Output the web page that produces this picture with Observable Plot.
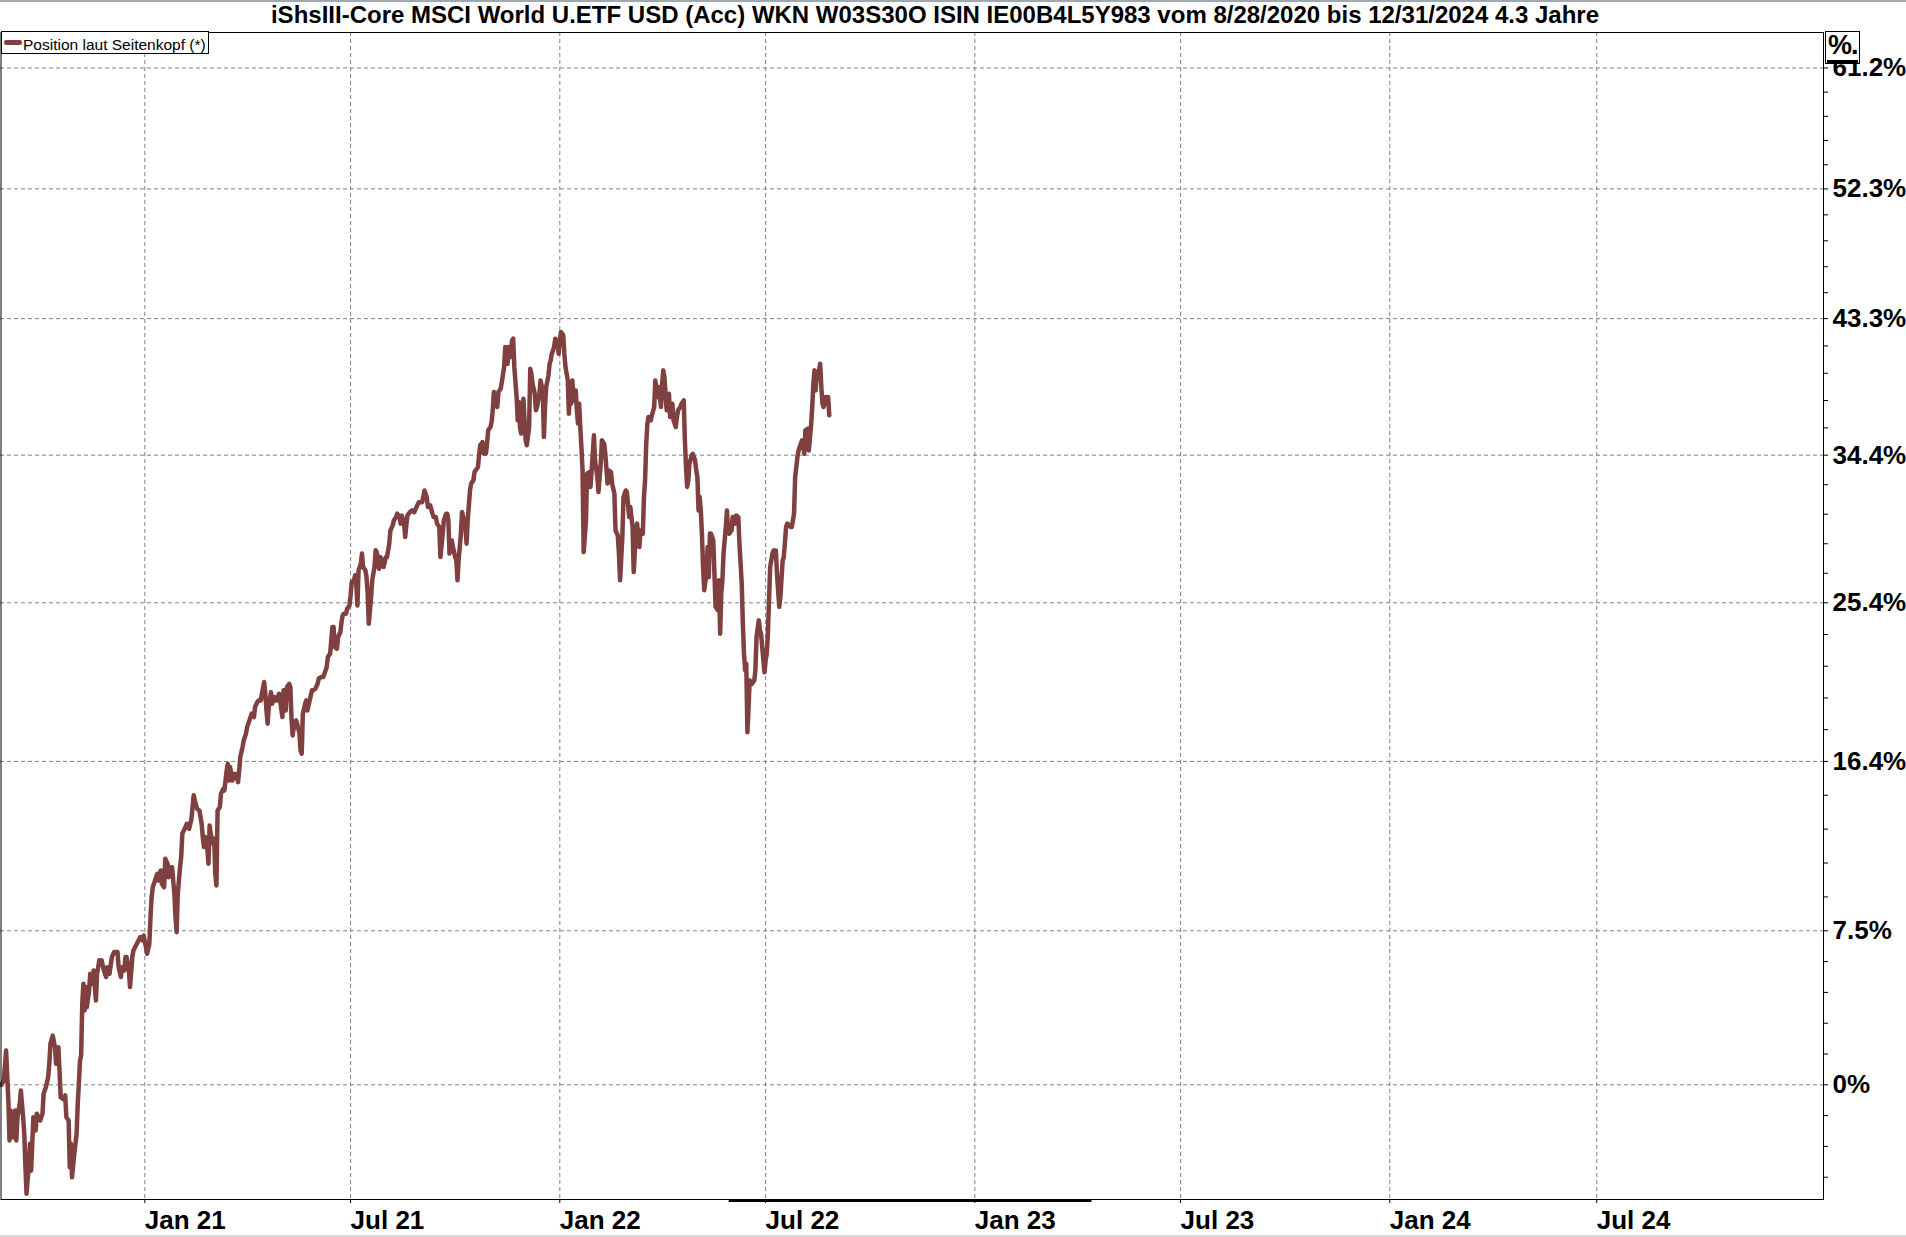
<!DOCTYPE html>
<html>
<head>
<meta charset="utf-8">
<script src="https://cdn.jsdelivr.net/npm/d3@7"></script>
<script src="https://cdn.jsdelivr.net/npm/@observablehq/plot@0.6"></script>
<style>
  html, body { margin: 0; padding: 0; background: #fff; overflow: hidden; }
  #wrap { position: relative; width: 1906px; height: 1237px; }
  #chart svg { display: block; }
  .ovl { position: absolute; }
  #title { left: 0; top: 0; width: 1870px; text-align: center; font: bold 24px "Liberation Sans", Arial, sans-serif; line-height: 30px; color: #000; white-space: nowrap; }
  #legend { left: 1px; top: 31px; width: 206px; height: 21px; border: 1px solid #000; background: #fff; }
  #legend .sw { position: absolute; left: 2px; top: 8px; width: 18px; height: 4.5px; border-radius: 2.25px; background: #804040; }
  #legend .tx { position: absolute; left: 21px; top: 2px; font: 15.5px "Liberation Sans", Arial, sans-serif; line-height: 21px; white-space: nowrap; color: #000; }
  #unit { left: 1825px; top: 31px; width: 33px; height: 31px; border: 1px solid #000; background: #fff; overflow: hidden; }
  #unit .tx { position: absolute; left: 2px; top: -2px; font: bold 27px "Liberation Sans", Arial, sans-serif; line-height: 30px; letter-spacing: -1px; color: #000; }
  #unit .ul { position: absolute; left: 1px; top: 28px; width: 31px; height: 3px; background: #000; }
  #topline { left: 0; top: 0; width: 1906px; height: 2px; background: #9ea8b1; }
  #botline { left: 0; top: 1235px; width: 1906px; height: 2px; background: #dcdcdc; }
</style>
</head>
<body>
<div id="wrap">
  <div id="chart"></div>
  <div id="topline" class="ovl"></div>
  <div id="botline" class="ovl"></div>
  <div id="title" class="ovl"></div>
  <div id="legend" class="ovl"><div class="sw"></div><div class="tx"></div></div>
  <div id="unit" class="ovl"><div class="tx">%.</div><div class="ul"></div></div>
</div>
<script>
// ---------------- data ----------------
const chartTitle = "iShsIII-Core MSCI World U.ETF USD (Acc) WKN W03S30O ISIN IE00B4L5Y983 vom 8/28/2020 bis 12/31/2024 4.3 Jahre";
const seriesName = "Position laut Seitenkopf (*)";
const startDate = "2020-08-28";

// trading days, as day offsets from startDate
const dayOffsets = [
  0,2,4,6,7,8,10,12,13,14,16,17,19,20,21,22,24,25,26,27,28,30,31,34,36,37,39,41,42,43,45,47,48,50,51,52,54,56,57,59,
  60,61,62,64,66,67,68,69,70,71,72,73,74,75,77,78,80,81,83,84,86,87,88,90,92,93,95,97,99,102,103,105,106,108,109,110,112,113,115,116,
  119,122,124,125,127,128,130,131,132,133,135,137,138,140,141,143,144,146,147,149,150,152,153,154,155,157,158,159,161,163,165,167,169,170,172,174,
  176,177,178,179,181,182,183,184,186,187,
  188,189,190,192,193,195,196,198,199,200,201,203,204,206,208,209,210,212,213,215,216,218,219,220,222,223,225,226,228,229,231,232,233,234,235,237,238,240,241,242,
  244,245,247,248,250,251,253,254,255,256,257,259,260,262,263,264,265,267,268,269,271,273,274,276,278,279,281,283,284,286,287,288,289,291,292,293,295,296,298,299,
  300,301,303,304,306,307,308,310,311,312,313,314,316,317,318,320,321,322,323,325,326,328,329,330,332,333,335,336,338,339,341,342,344,345,347,348,350,351,352,354,
  355,356,357,359,361,363,365,367,370,372,
  374,375,377,379,380,382,383,385,386,388,389,391,392,393,394,396,397,399,400,401,402,404,405,406,408,409,410,412,413,415,416,418,419,420,421,423,424,426,427,428,
  430,431,432,433,435,436,437,439,440,442,443,444,445,446,448,449,450,451,453,454,455,456,457,459,460,461,462,464,465,466,467,469,470,471,473,474,476,477,478,479,
  481,482,483,484,486,487,488,489,490,491,492,494,495,496,498,499,500,501,502,503,505,506,507,508,509,510,511,512,514,515,517,518,520,521,522,524,525,527,528,530,
  531,533,534,536,537,539,540,542,543,544,546,547,549,550,552,553,555,556,558,559,561,
  562,564,565,566,567,568,569,571,572,574,575,577,578,580,581,582,583,585,586,587,588,590,591,593,594,595,597,598,600,601,602,603,604,605,607,608,610,611,612,613,
  614,615,616,617,618,620,621,622,623,624,626,627,628,630,631,632,633,634,635,637,638,639,640,642,643,645,646,648,649,651,652,653,654,655,656,657,658,660,662,663,
  664,666,667,668,669,671,672,673,674,675,676,678,679,681,682,684,685,687,688,690,691,693,694,695,697,698,700,701,703,704,706,707,709,710,712,713,714,715,716,717,
  719,720,721,722,723,725,726,727,728
];

// performance since start, in percent
const performancePct = [
  0,0.20,1.62,-0.73,-2.58,-1.20,-2.43,-1.20,-2.58,-1.51,-0.89,-0.27,-1.51,-2.28,-3.79,-4.99,-3.64,-2.73,-3.95,-2.73,-1.51,-2.12,-1.35,-1.66,-1.35,-0.42,-0.11,0.36,0.99,1.94,2.34,1.78,0.99,1.78,0.67,-0.58,-0.66,-0.50,-1.51,-1.66,
  -3.79,-2.73,-4.25,-3.19,-2.28,-0.89,0.05,1.15,1.39,3.88,4.86,3.55,4.70,3.71,4.53,5.35,4.86,5.52,4.04,5.35,6.02,5.85,6.02,5.52,5.19,5.68,5.35,6.18,6.43,6.43,5.68,5.19,5.68,5.52,6.18,6.18,5.52,4.70,6.18,6.51,
  6.85,7.18,7.02,7.26,6.68,6.35,6.85,8.19,9.21,9.72,10.07,10.42,10.07,10.59,9.90,9.72,11.20,10.94,10.24,10.76,10.76,9.38,8.19,7.43,9.38,10.76,11.29,12.51,12.77,13.04,12.77,13.30,14.56,14.28,13.84,13.75,
  13.04,12.34,11.81,12.34,11.72,10.94,12.95,12.51,11.99,12.25,
  10.42,9.81,13.75,13.93,14.65,14.91,14.82,15.90,16.27,15.36,16.09,15.36,15.72,15.72,15.27,15.90,16.64,17.19,17.55,17.93,18.29,18.66,18.85,19.04,18.85,19.41,19.69,19.78,19.78,20.16,20.82,20.16,19.22,18.48,19.41,20.25,19.60,19.97,19.78,19.78,
  20.16,19.78,18.85,20.35,19.22,20.54,20.72,20.54,18.85,17.83,18.29,18.66,18.48,17.93,17.00,16.82,19.04,19.60,19.78,19.22,19.78,20.35,20.35,20.44,20.72,21.01,21.10,21.10,21.29,21.68,22.25,22.35,22.44,23.99,23.99,22.83,22.73,23.40,23.69,24.27,
  24.66,24.76,24.76,25.06,25.24,25.83,26.63,26.73,27.03,26.53,25.24,27.33,27.72,28.33,27.52,27.33,26.92,25.94,24.17,25.73,26.73,27.52,28.53,28.43,27.42,28.12,27.93,27.52,28.12,28.12,28.93,29.73,30.04,30.34,30.55,30.76,30.55,30.15,30.65,30.25,
  29.33,30.04,30.65,30.85,30.96,30.85,31.17,31.47,31.47,32.19,
  31.78,31.17,31.27,30.76,30.55,30.55,30.15,29.94,28.12,29.54,30.34,30.76,30.76,30.34,28.33,29.12,28.73,28.12,27.93,26.73,27.93,29.54,30.86,30.55,29.94,28.93,30.34,32.19,32.62,32.82,33.34,33.55,33.65,34.39,35.03,35.23,34.50,34.50,35.13,35.98,
  36.19,36.51,37.26,38.44,38.12,37.48,38.44,38.66,39.09,40.07,41.40,41.18,40.29,41.40,40.74,41.84,41.96,40.07,38.12,36.62,37.80,36.19,35.77,38.01,36.62,35.34,35.03,36.19,39.96,39.63,38.98,38.33,37.26,37.48,38.33,39.20,38.55,35.55,37.48,38.77,
  39.52,40.29,40.52,40.96,41.40,41.96,41.40,41.84,40.96,41.84,42.40,42.19,40.96,40.07,39.20,37.04,38.98,37.69,39.20,37.90,38.55,37.26,36.41,37.69,36.19,34.92,33.44,28.42,30.34,33.24,33.34,32.41,34.50,35.66,34.07,33.03,32.09,33.87,35.34,35.13,
  34.50,32.62,33.44,33.34,32.62,32.00,29.73,29.43,28.33,26.73,29.33,31.78,32.19,32.09,30.55,31.17,29.94,27.22,29.73,30.15,28.73,
  29.73,29.54,31.78,32.82,35.12,36.40,36.83,36.62,36.94,37.48,39.20,38.12,38.77,37.48,38.98,39.86,39.43,37.26,37.90,38.33,36.83,37.69,36.62,36.19,36.83,37.26,37.48,37.69,37.90,35.34,33.65,32.41,32.82,33.87,34.39,34.49,34.07,33.44,33.03,30.96,
  31.78,30.96,29.54,27.52,26.14,27.12,28.73,26.92,29.54,29.54,29.12,27.12,25.16,24.96,26.73,23.59,25.94,26.73,28.33,29.94,30.96,29.73,29.54,29.73,30.55,30.15,30.65,30.55,28.93,26.53,24.17,22.44,21.48,21.86,18.01,19.41,20.91,20.72,20.91,21.48,
  23.40,24.37,23.79,23.59,22.83,21.38,22.05,22.44,23.59,25.55,27.52,28.33,28.52,28.52,27.12,25.16,25.75,27.92,28.12,29.94,30.15,30.04,29.94,29.94,30.76,33.03,34.29,34.70,35.12,35.34,34.49,35.98,36.08,34.70,36.30,37.48,38.98,39.86,38.55,39.63,
  39.86,40.30,38.77,37.69,37.48,38.12,37.69,38.12,36.94
];

// axes
const xDomain = ["2020-08-27T02:00:00Z", "2025-01-16T10:00:00Z"];
const xTickDates = ["2021-01-01","2021-07-01","2022-01-01","2022-07-01","2023-01-01","2023-07-01","2024-01-01","2024-07-01"];
const xTickLabels = ["Jan 21","Jul 21","Jan 22","Jul 22","Jan 23","Jul 23","Jan 24","Jul 24"];
const yDomainPct = [-5.243, 63.907];
const yTickPct = [0, 7.5, 16.4, 25.4, 34.4, 43.3, 52.3, 61.2];
const yTickLabels = ["0%","7.5%","16.4%","25.4%","34.4%","43.3%","52.3%","61.2%"];
const rangeBarDates = ["2022-05-30", "2023-04-14"];

// ---------------- build ----------------
const parse = s => new Date(s.length === 10 ? s + "T00:00:00Z" : s);
const start = parse(startDate);
const data = dayOffsets.map((d, i) => ({
  date: d3.utcDay.offset(start, d),
  value: 1 + performancePct[i] / 100
}));

const yTickValues = yTickPct.map(p => 1 + p / 100);
const yLo = 1 + yDomainPct[0] / 100, yHi = 1 + yDomainPct[1] / 100;

// minor ticks: 4 per interval, evenly spaced on the log axis
const minorTicks = [];
for (let i = 0; i < yTickValues.length - 1; i++) {
  const a = Math.log(yTickValues[i]), b = Math.log(yTickValues[i + 1]);
  for (let k = 1; k < 5; k++) minorTicks.push(Math.exp(a + (b - a) * k / 5));
}
{
  const step = (Math.log(yTickValues[1]) - Math.log(yTickValues[0])) / 5;
  for (let k = 1; ; k++) {
    const v = Math.exp(Math.log(yTickValues[0]) - step * k);
    if (v <= yLo) break;
    minorTicks.push(v);
  }
}

const font = "'Liberation Sans', Arial, Helvetica, sans-serif";
const xTicks = xTickDates.map(parse);

const chart = Plot.plot({
  width: 1906,
  height: 1237,
  marginLeft: 0,
  marginRight: 83,
  marginTop: 32,
  marginBottom: 38,
  style: { background: "transparent", fontFamily: font, color: "#000" },
  x: { type: "utc", domain: xDomain.map(parse), axis: null },
  y: { type: "log", domain: [yLo, yHi], axis: null },
  marks: [
    Plot.ruleY(yTickValues, { stroke: "#808080", strokeDasharray: "4,3", strokeWidth: 1 }),
    Plot.ruleX(xTicks, { stroke: "#808080", strokeDasharray: "4,3", strokeWidth: 1 }),
    Plot.line(data, {
      x: "date", y: "value",
      stroke: "#804040", strokeWidth: 4.5,
      strokeLinejoin: "round", strokeLinecap: "round"
    }),
    Plot.frame({ stroke: "#000", strokeWidth: 1, insetLeft: 0.5 }),
    Plot.ruleY([yLo], {
      x1: parse(rangeBarDates[0]), x2: parse(rangeBarDates[1]),
      stroke: "#000", strokeWidth: 3, dy: 1
    }),
    Plot.axisY(minorTicks, {
      anchor: "right", tickSize: 4, tickFormat: () => "", stroke: "#000", label: null
    }),
    Plot.axisY(yTickValues, {
      anchor: "right", tickSize: 4, tickPadding: 5, label: null,
      tickFormat: d => yTickLabels[yTickValues.indexOf(d)],
      fontSize: 26, fontWeight: "bold", fill: "#000", stroke: "#000"
    }),
    Plot.axisX(xTicks, {
      anchor: "bottom", tickSize: 4, tickPadding: 7, label: null,
      textAnchor: "start",
      tickFormat: d => xTickLabels[xTicks.findIndex(t => +t === +d)],
      fontSize: 26, fontWeight: "bold", fill: "#000", stroke: "#000"
    })
  ]
});

d3.select(chart).selectAll("text").style("font-weight", "bold").style("font-family", font);
document.getElementById("chart").appendChild(chart);
document.getElementById("title").textContent = chartTitle;
document.querySelector("#legend .tx").textContent = seriesName;
</script>
</body>
</html>
